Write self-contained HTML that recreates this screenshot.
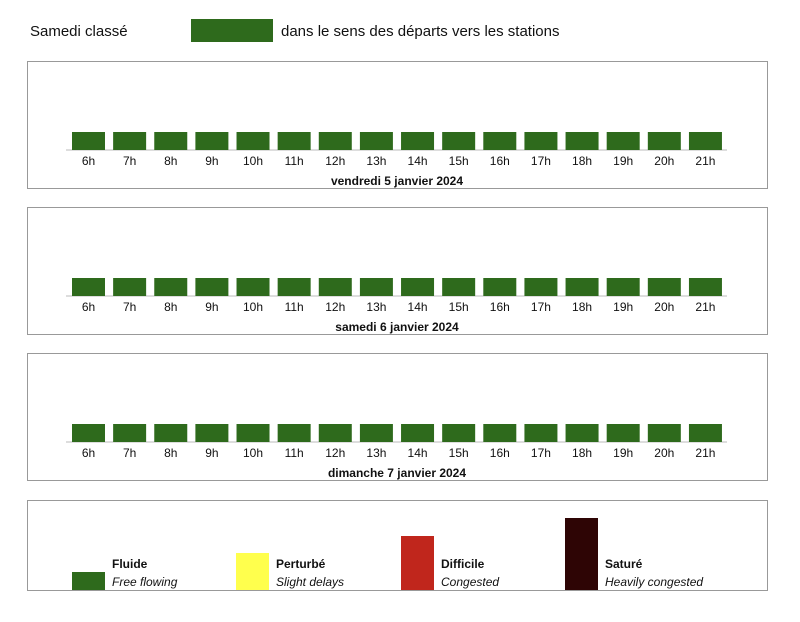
<!DOCTYPE html>
<html><head><meta charset="utf-8"><style>
body{margin:0;width:800px;height:617px;background:#fff;font-family:"Liberation Sans",sans-serif;overflow:hidden}
</style></head><body>
<svg id="c" width="800" height="617" xmlns="http://www.w3.org/2000/svg">
<text x="30" y="36" font-size="15" fill="#111">Samedi classé</text>
<rect x="191" y="19" width="82" height="23" fill="#2e6a1c"/>
<text x="281" y="36" font-size="15" fill="#111">dans le sens des départs vers les stations</text>
<g id="panels"></g>
<g>
<rect x="27.5" y="500.5" width="740" height="90" fill="none" stroke="#999"/>
<g id="leg"></g>
</g>
</svg>
<script>
const hours=["6h","7h","8h","9h","10h","11h","12h","13h","14h","15h","16h","17h","18h","19h","20h","21h"];
const days=["vendredi 5 janvier 2024","samedi 6 janvier 2024","dimanche 7 janvier 2024"];
const levelsFri=[1,1,1,1,1,1,1,1,1,1,1,1,1,1,1,1];
const levelsSat=[1,1,1,1,1,1,1,1,1,1,1,1,1,1,1,1];
const levelsSun=[1,1,1,1,1,1,1,1,1,1,1,1,1,1,1,1];
const levelNames=["Fluide","Perturbé","Difficile","Saturé"];
const levelSub=["Free flowing","Slight delays","Congested","Heavily congested"];
const levelColors=["#2e6a1c","#ffff4d","#c0261c","#2e0505"];
const allLevels=[levelsFri,levelsSat,levelsSun];
const NS="http://www.w3.org/2000/svg";
function mk(t,a,p){const e=document.createElementNS(NS,t);for(const k in a)e.setAttribute(k,a[k]);p.appendChild(e);return e;}
const xPos=i=>72+i*41.13;
const hUnit=18;
const panels=document.getElementById('panels');
const tops=[61,207,353];
days.forEach((d,pi)=>{
  const top=tops[pi], base=top+89;
  const g=mk('g',{},panels);
  
  
  const box=mk('rect',{x:27.5,y:top+0.5,width:740,height:127,fill:'none',stroke:'#999'},g);
  
  
  const ax=mk('line',{x1:66,x2:727,y1:base,y2:base,stroke:'#bbb','stroke-width':1},g);
  
  
  allLevels[pi].forEach((v,i)=>{
    const r=mk('rect',{x:xPos(i),y:base-v*hUnit,width:33,height:v*hUnit,fill:levelColors[Math.max(0,v-1)]},g);
    
    
    const t=mk('text',{x:xPos(i)+16.5,y:base+15,'font-size':12,'text-anchor':'middle',fill:'#111'},g);
    t.textContent=hours[i];
    
    
  });
  const dt=mk('text',{x:397,y:base+35,'font-size':12,'font-weight':'bold','text-anchor':'middle',fill:'#111'},g);
  dt.textContent=d;
  
  
});
const leg=document.getElementById('leg');
const legX=[72,236,401,565], legH=[18,37,54,72];
levelNames.forEach((n,i)=>{
  const r=mk('rect',{x:legX[i],y:590-legH[i],width:33,height:legH[i],fill:levelColors[i]},leg);
  
  
  const t=mk('text',{x:legX[i]+40,y:568,'font-size':12,'font-weight':'bold',fill:'#111'},leg);
  t.textContent=n;
  
  
  const s=mk('text',{x:legX[i]+40,y:586,'font-size':12,'font-style':'italic',fill:'#111'},leg);
  s.textContent=levelSub[i];
  
  
});
</script>
</body></html>
